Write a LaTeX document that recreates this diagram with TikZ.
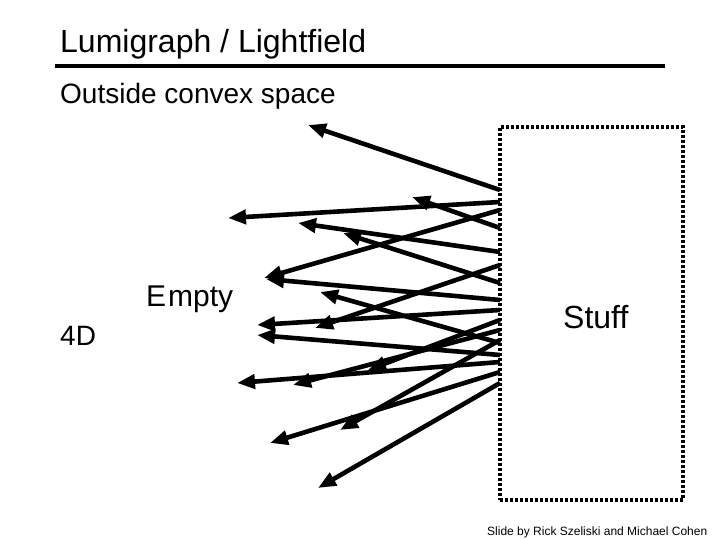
\documentclass[tikz,border=0pt]{standalone}
\usepackage{fontspec}
\setmainfont{Liberation Sans}
\usetikzlibrary{positioning, arrows.meta}

\tikzset{
  slidetext/.style={inner sep=0pt, anchor=base west},
  ray/.style={line width=4.6pt, -{Triangle[length=18pt,width=14pt]}},
  hull/.style={draw, line width=3.5pt, dash pattern=on 3pt off 2pt,
    minimum width=183pt, minimum height=373pt, inner sep=0pt}
}

\begin{document}
\begin{tikzpicture}[x=1pt, y=-1pt]
    \useasboundingbox (0,0) rectangle (720,540);

    % titre et soulignement
    \node[slidetext, font=\fontsize{32}{38}\selectfont] (title) at (60,53) {Lumigraph / Lightfield};
    \draw[line width=4pt] (55,66) -- (665,66);
    \node[slidetext, font=\fontsize{28}{34}\selectfont] (subtitle) at (60,104) {Outside convex space};

    % la boite
    \node[hull] (stuff) at (591.5,313.5) {};
    \node[slidetext, font=\fontsize{32}{38}\selectfont] (stufflabel) at (563,328) {Stuff};

    \node[slidetext, font=\fontsize{30}{36}\selectfont] (empty) at (146,306) {E\kern2pt mpty};
    \node[slidetext, font=\fontsize{28}{34}\selectfont] (dim) at (60,345) {4D};

    % rayons : bord de la boite -> pointe
    \foreach \i/\sy/\tx/\ty in {
        1/190/308/125, 2/202/228/218, 3/228/412/197, 4/252/298/223,
        5/283/343/233, 6/210/264/278, 7/300/266/279, 8/343/320/292,
        9/310/257/325, 10/265/315/328, 11/355/257/335, 12/362/237/383,
        13/330/293/385, 14/320/368/370, 15/372/270/443, 16/340/340/430,
        17/383/318/488} {
      \coordinate (src\i) at (500,\sy);
      \coordinate (tip\i) at (\tx,\ty);
      \draw[ray] (src\i) -- (tip\i);
    }

    \node[slidetext, font=\fontsize{12}{14}\selectfont] (credit) at (487,535) {Slide by Rick Szeliski and Michael Cohen};
  \end{tikzpicture}
\end{document}
